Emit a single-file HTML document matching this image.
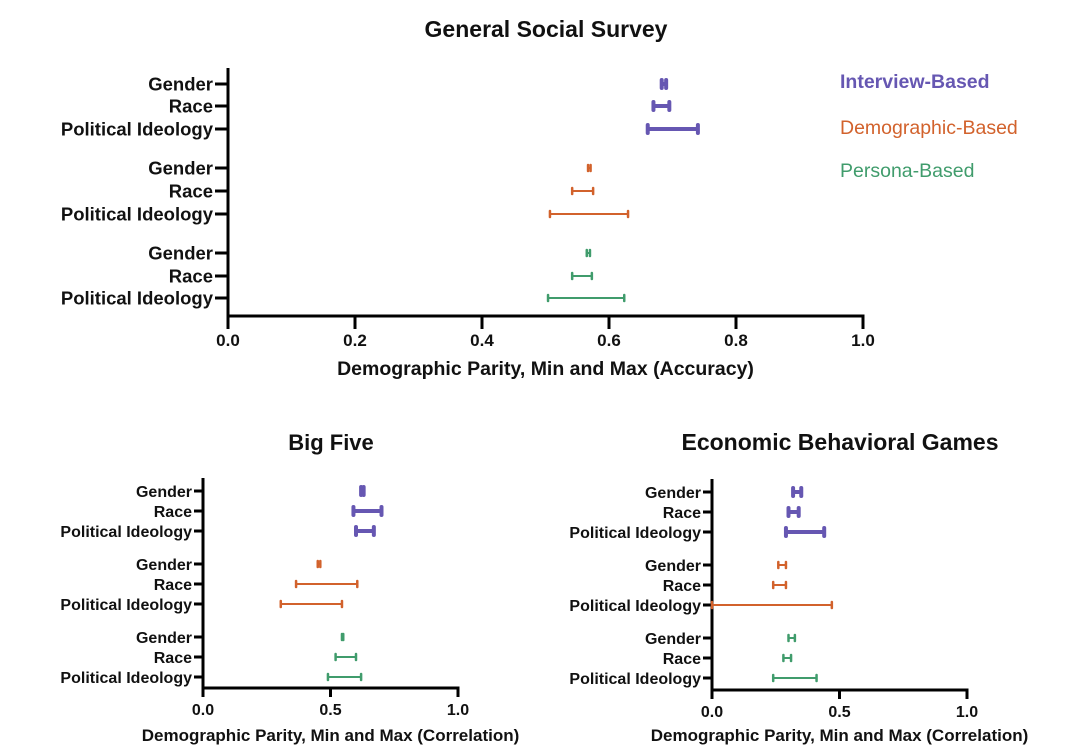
<!DOCTYPE html>
<html><head><meta charset="utf-8"><style>
html,body{margin:0;padding:0;background:#fff;}
svg{display:block;font-family:"Liberation Sans",Arial,sans-serif;}
</style></head><body>
<svg id="c" width="1080" height="754" viewBox="0 0 1080 754"></svg>
<script>
const categories = ["Gender","Race","Political Ideology"];
const groups = ["Interview-Based","Demographic-Based","Persona-Based"];
const gssMin = [[0.683,0.670,0.661],[0.567,0.542,0.507],[0.565,0.542,0.504]];
const gssMax = [[0.690,0.695,0.740],[0.571,0.575,0.630],[0.570,0.573,0.624]];
const b5Min = [[0.620,0.590,0.600],[0.450,0.365,0.305],[0.545,0.520,0.490]];
const b5Max = [[0.630,0.700,0.670],[0.460,0.605,0.545],[0.550,0.600,0.620]];
const ebMin = [[0.318,0.300,0.290],[0.260,0.240,0.000],[0.300,0.280,0.240]];
const ebMax = [[0.350,0.340,0.440],[0.290,0.290,0.470],[0.325,0.310,0.410]];
const gssTicks = ["0.0","0.2","0.4","0.6","0.8","1.0"];
const smallTicks = ["0.0","0.5","1.0"];
const colors = ["#6657b2","#d2622c","#409c6c"];
const NS="http://www.w3.org/2000/svg";
const svg=document.getElementById('c');
function mk(tag,attrs,parent,text){const e=document.createElementNS(NS,tag);for(const k in attrs)e.setAttribute(k,attrs[k]);if(text!==undefined)e.textContent=text;(parent||svg).appendChild(e);return e;}

function panel(cfg){
  const g=mk('g',{});
  
  
  const sx=v=>cfg.x0+v*(cfg.x1-cfg.x0);
  const t=mk('text',{x:cfg.titleX,y:cfg.titleY,'text-anchor':'middle','font-size':cfg.titleSize,'font-weight':'bold',fill:'#111'},g,cfg.title);
  
  
  const ya=mk('line',{x1:cfg.x0,y1:cfg.yTop,x2:cfg.x0,y2:cfg.yAxis+1.5,stroke:'#000','stroke-width':3},g);
  
  
  const xa=mk('line',{x1:cfg.x0-1.5,y1:cfg.yAxis,x2:cfg.x1+1.5,y2:cfg.yAxis,stroke:'#000','stroke-width':3},g);
  
  
  cfg.ticks.forEach((lab,i)=>{
    const v=i/(cfg.ticks.length-1);
    mk('line',{x1:sx(v),y1:cfg.yAxis,x2:sx(v),y2:cfg.yAxis+cfg.tickLen,stroke:'#000','stroke-width':3},g);
    const tl=mk('text',{x:sx(v),y:cfg.yAxis+cfg.tickLabelDy,'text-anchor':'middle','font-size':cfg.xfs,'font-weight':'bold',fill:'#111'},g,lab);
    
    
  });
  const xt=mk('text',{x:(cfg.x0+cfg.x1)/2+cfg.xTitleDx,y:cfg.xTitleY,'text-anchor':'middle','font-size':cfg.xtfs,'font-weight':'bold',fill:'#111'},g,cfg.xTitle);
  
  
  groups.forEach((gr,gi)=>{
    categories.forEach((cat,ci)=>{
      const y=cfg.rows[gi*3+ci];
      mk('line',{x1:cfg.x0-cfg.tickLen,y1:y,x2:cfg.x0,y2:y,stroke:'#000','stroke-width':3},g);
      const cl=mk('text',{x:cfg.x0-cfg.tickLen-2,y:y+cfg.fs*0.36,'text-anchor':'end','font-size':cfg.fs,'font-weight':'bold',fill:'#111'},g,cat);
      
      
      const a=sx(cfg.mins[gi][ci]), b=sx(cfg.maxs[gi][ci]);
      const sw=gi===0?4:2, cap=gi===0?8:6;
      const eb=mk('g',{},g);
      
      
      mk('line',{x1:a,y1:y,x2:b,y2:y,stroke:colors[gi],'stroke-width':sw},eb);
      mk('line',{x1:a,y1:y-cap/2,x2:a,y2:y+cap/2,stroke:colors[gi],'stroke-width':gi===0?4:2.5,'stroke-linecap':'round'},eb);
      mk('line',{x1:b,y1:y-cap/2,x2:b,y2:y+cap/2,stroke:colors[gi],'stroke-width':gi===0?4:2.5,'stroke-linecap':'round'},eb);
    });
  });
}
panel({name:'general-social-survey-chart',title:'General Social Survey',titleX:546,titleY:37,titleSize:23,
  x0:228,x1:863,yTop:68,yAxis:316,tickLen:13,tickLabelDy:30,fs:18.5,xfs:17,xtfs:19.5,
  rows:[84,106,129,168,191,214,253,276,298],ticks:gssTicks,mins:gssMin,maxs:gssMax,
  xTitle:'Demographic Parity, Min and Max (Accuracy)',xTitleDx:0,xTitleY:375});
panel({name:'big-five-chart',title:'Big Five',titleX:331,titleY:450,titleSize:22,
  x0:203,x1:458,yTop:478,yAxis:688,tickLen:9,tickLabelDy:27,fs:16,xfs:16,xtfs:17,
  rows:[491,511,531,564,584,604,637,657,677],ticks:smallTicks,mins:b5Min,maxs:b5Max,
  xTitle:'Demographic Parity, Min and Max (Correlation)',xTitleDx:0,xTitleY:741});
panel({name:'economic-behavioral-games-chart',title:'Economic Behavioral Games',titleX:840,titleY:450,titleSize:23,
  x0:712,x1:967,yTop:479,yAxis:690,tickLen:9,tickLabelDy:27,fs:16,xfs:16,xtfs:17,
  rows:[492,512,532,565,585,605,638,658,678],ticks:smallTicks,mins:ebMin,maxs:ebMax,
  xTitle:'Demographic Parity, Min and Max (Correlation)',xTitleDx:0,xTitleY:741});
const legY=[88,134,177];
groups.forEach((gr,i)=>{
  const l=mk('text',{x:840,y:legY[i],'font-size':19.5,'font-weight':i===0?'bold':'normal',fill:colors[i]},svg,gr);
  
  
});
</script>
</body></html>
